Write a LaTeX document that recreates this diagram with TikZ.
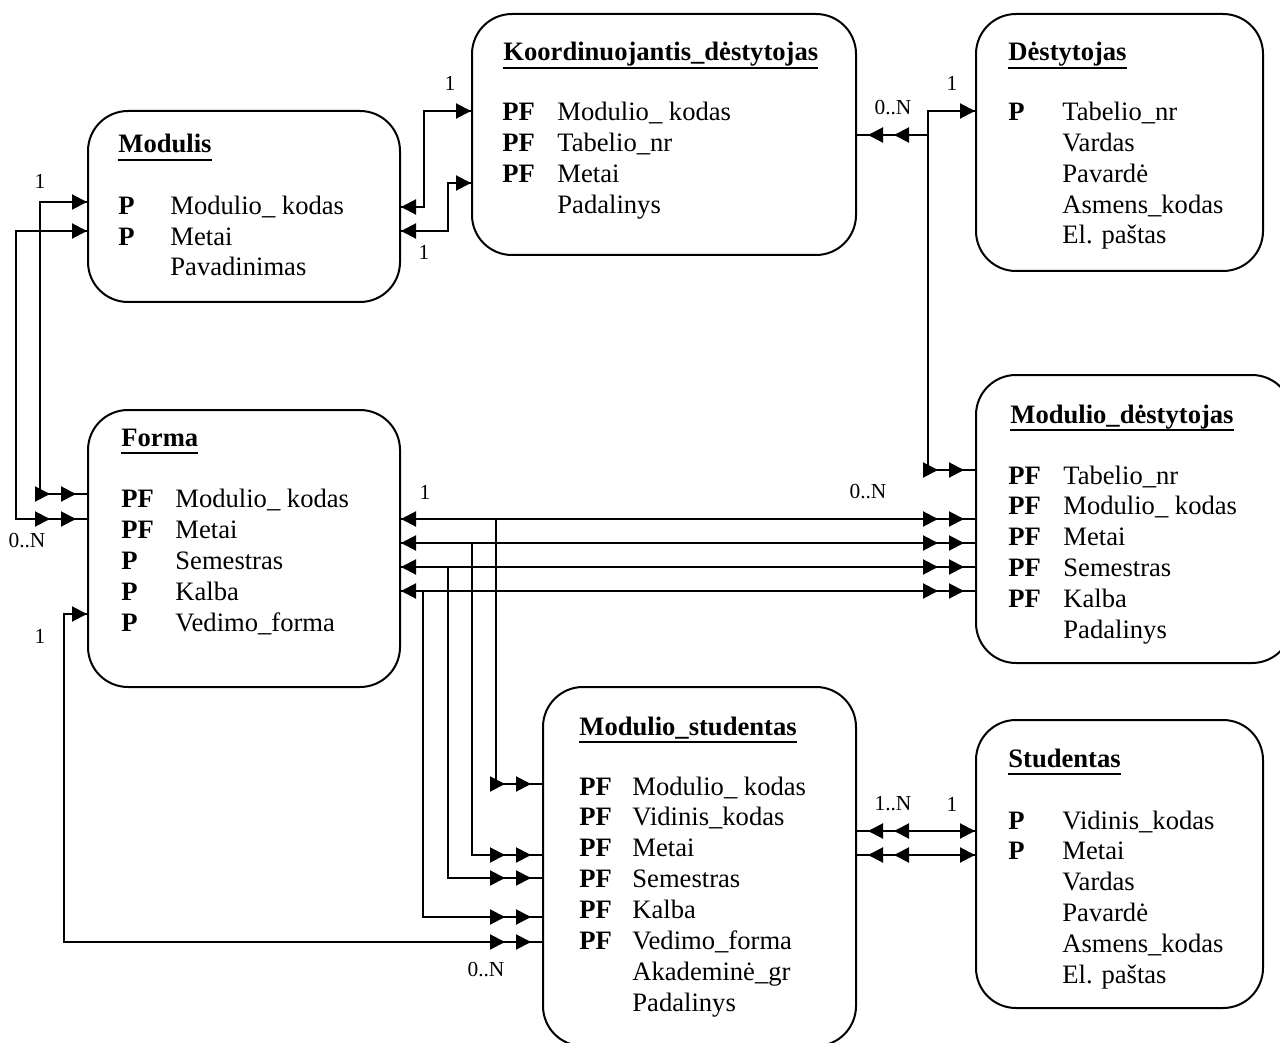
\documentclass[tikz,border=0pt]{standalone}
\usepackage{fontspec}
\setmainfont{Liberation Serif}
\usetikzlibrary{arrows.meta,fit}

\tikzset{
  x=0.5pt, y=-0.5pt,
  box/.style={draw, line width=1pt, rounded corners=20pt, inner sep=0pt},
  title/.style={anchor=base west, inner sep=0pt, font=\fontsize{13.3}{16}\selectfont\bfseries},
  row/.style={anchor=base west, inner sep=0pt, font=\fontsize{13.3}{16}\selectfont},
  key/.style={row, font=\fontsize{13.3}{16}\selectfont\bfseries},
  lbl/.style={inner sep=0pt, font=\fontsize{10.7}{12}\selectfont},
  conn/.style={line width=1pt},
  % single tip at both ends
  ss/.style={conn, postaction={draw, line width=1pt,
    {Triangle[length=7.5pt,width=7.5pt]}-{Triangle[length=7.5pt,width=7.5pt]}}},
  % single tip at start, double tip at end
  sd/.style={conn, postaction={draw, line width=1pt,
    {Triangle[length=7.5pt,width=7.5pt]}-{Triangle[length=7.5pt,width=7.5pt,sep=5.5pt]Triangle[length=7.5pt,width=7.5pt,sep=5.5pt]}}},
  % double tip at start, single tip at end
  ds/.style={conn, postaction={draw, line width=1pt,
    {Triangle[length=7.5pt,width=7.5pt,sep=5.5pt]Triangle[length=7.5pt,width=7.5pt,sep=5.5pt]}-{Triangle[length=7.5pt,width=7.5pt]}}},
  % double tip at end only
  xd/.style={conn, postaction={draw, line width=1pt,
    -{Triangle[length=7.5pt,width=7.5pt,sep=5.5pt]Triangle[length=7.5pt,width=7.5pt,sep=5.5pt]}}},
}

% heavier underline for entity names
\newcommand\entname[1]{\setbox0\hbox{#1}\rlap{\rule[-4.2pt]{\wd0}{1pt}}\box0}

% rows of an entity: name, x of key, x of field, first baseline, step, list key/field
\newcommand\entityrows[6]{%
  \foreach \k/\f [count=\i] in {#6} {
    \node[key] (#1-k\i) at (#2, {#4+(\i-1)*#5}) {\k};
    \node[row] (#1-f\i) at (#3, {#4+(\i-1)*#5}) {\f};
  }}

\begin{document}
\begin{tikzpicture}
\useasboundingbox (0,0) rectangle (1280,1043);
\clip (0,0) rectangle (1280,1043);

% ---------- entities ----------
\node[box, fit={(88,111) (400,302)}] (modulis) {};
\node[title] (modulis-t) at (118,153) {\entname{Modulis}};
\entityrows{modulis}{118}{170}{215}{30.5}{P/Modulio\_ kodas, P/Metai, /Pavadinimas}

\node[box, fit={(472,14) (856,255)}] (koord) {};
\node[title] (koord-t) at (503,61) {\entname{Koordinuojantis\_dėstytojas}};
\entityrows{koord}{502}{557}{121}{30.7}{PF/Modulio\_ kodas, PF/Tabelio\_nr, PF/Metai, /Padalinys}

\node[box, fit={(976,14) (1263,271)}] (dest) {};
\node[title] (dest-t) at (1008,61) {\entname{Dėstytojas}};
\entityrows{dest}{1008}{1062}{121}{30.75}{P/Tabelio\_nr, /Vardas, /Pavardė, /Asmens\_kodas, /El. paštas}

\node[box, fit={(976,375) (1292,663)}] (moddest) {};
\node[title] (moddest-t) at (1010,423) {\entname{Modulio\_dėstytojas}};
\entityrows{moddest}{1008}{1063}{484}{30.8}{PF/Tabelio\_nr, PF/Modulio\_ kodas, PF/Metai, PF/Semestras, PF/Kalba, /Padalinys}

\node[box, fit={(88,410) (400,687)}] (forma) {};
\node[title] (forma-t) at (121,446) {\entname{Forma}};
\entityrows{forma}{121}{175}{507}{31.2}{PF/Modulio\_ kodas, PF/Metai, P/Semestras, P/Kalba, P/Vedimo\_forma}

\node[box, fit={(543,687) (856,1046)}] (modstud) {};
\node[title] (modstud-t) at (579,735) {\entname{Modulio\_studentas}};
\entityrows{modstud}{579}{632}{795}{30.86}{PF/Modulio\_ kodas, PF/Vidinis\_kodas, PF/Metai, PF/Semestras, PF/Kalba, PF/Vedimo\_forma, /Akademinė\_gr, /Padalinys}

\node[box, fit={(976,720) (1263,1008)}] (stud) {};
\node[title] (stud-t) at (1008,767) {\entname{Studentas}};
\entityrows{stud}{1008}{1062}{829}{30.8}{P/Vidinis\_kodas, P/Metai, /Vardas, /Pavardė, /Asmens\_kodas, /El. paštas}

% ---------- connectors ----------
% Modulis -- Koordinuojantis_destytojas
\draw[ss] (modulis.east |- 0,207) -- (424,207) |- (koord.west |- 0,111);
\draw[ss] (modulis.east |- 0,231) -- (448,231) |- (koord.west |- 0,183);

% Modulis -- Forma
\draw[sd] (modulis.west |- 0,202) -- (40,202) |- (forma.west |- 0,494);
\draw[sd] (modulis.west |- 0,231) -- (16,231) |- (forma.west |- 0,519);

% Forma -- Modulio_studentas (outer loop)
\draw[sd] (forma.west |- 0,614) -- (64,614) |- (modstud.west |- 0,942);

% Forma -- Modulio_destytojas
\foreach \yy in {519,543,567,591}
  \draw[sd] (forma.east |- 0,\yy) -- (moddest.west |- 0,\yy);

% branches down to Modulio_studentas
\coordinate (b1) at (496,519);
\coordinate (b2) at (472,543);
\coordinate (b3) at (448,567);
\coordinate (b4) at (423,591);
\draw[xd] (b1) |- (modstud.west |- 0,784);
\draw[xd] (b2) |- (modstud.west |- 0,855);
\draw[xd] (b3) |- (modstud.west |- 0,878);
\draw[xd] (b4) |- (modstud.west |- 0,917);

% Koordinuojantis_destytojas -- Destytojas -- Modulio_destytojas
\draw[ds] (koord.east |- 0,135) -- (928,135) |- (dest.west |- 0,111);
\coordinate (k1) at (928,111);
\draw[xd] (k1) |- (moddest.west |- 0,470);

% Modulio_studentas -- Studentas
\draw[ds] (modstud.east |- 0,831) -- (stud.west |- 0,831);
\draw[ds] (modstud.east |- 0,855) -- (stud.west |- 0,855);

% ---------- cardinalities ----------
\node[lbl] (c1) at (450,83) {1};
\node[lbl] (c2) at (424,252) {1};
\node[lbl] (c3) at (40,181) {1};
\node[lbl] (c4) at (27,541) {0..N};
\node[lbl] (c5) at (40,636) {1};
\node[lbl] (c6) at (425,492) {1};
\node[lbl] (c7) at (868,492) {0..N};
\node[lbl] (c8) at (486,970) {0..N};
\node[lbl] (c9) at (893,108) {0..N};
\node[lbl] (c10) at (952,83) {1};
\node[lbl] (c11) at (893,804) {1..N};
\node[lbl] (c12) at (952,804) {1};
\end{tikzpicture}
\end{document}
